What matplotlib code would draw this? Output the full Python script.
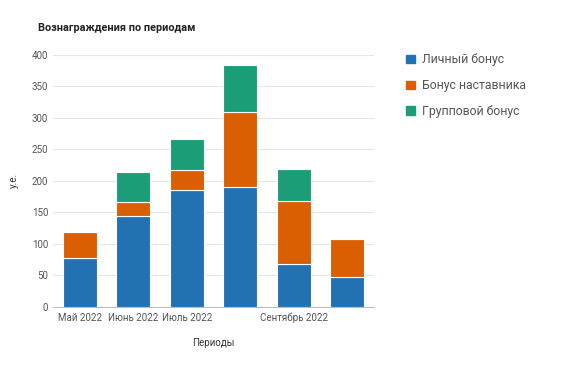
import matplotlib.pyplot as plt
from matplotlib.patches import Patch

plt.rcParams['font.family'] = ['Roboto', 'DejaVu Sans']

periods = ["Май 2022", "Июнь 2022", "Июль 2022", "Август 2022", "Сентябрь 2022", "Октябрь 2022"]
# only some labels were shown in the original (the rest were skipped)
shown_labels = ["Май 2022", "Июнь 2022", "Июль 2022", "", "Сентябрь 2022", ""]
personal = [77, 145, 185, 191, 68, 48]
mentor = [42, 22, 33, 118, 100, 60]
group = [0, 47, 49, 75, 51, 0]

series_names = ["Личный бонус", "Бонус наставника", "Групповой бонус"]
colors = ["#2271b3", "#d95f02", "#1b9e77"]

if __name__ == "__main__":
    fig = plt.figure(figsize=(5.71, 3.71), dpi=100)
    ax = fig.add_axes([0.093, 0.1725, 0.562, 0.68])

    x = list(range(len(periods)))
    bottom2 = [p + m for p, m in zip(personal, mentor)]
    ax.bar(x, personal, width=0.64, color=colors[0], edgecolor="white", linewidth=0.8, zorder=3)
    ax.bar(x, mentor, width=0.64, bottom=personal, color=colors[1], edgecolor="white", linewidth=0.8, zorder=3)
    ax.bar(x, group, width=0.64, bottom=bottom2, color=colors[2], edgecolor="white", linewidth=0.8, zorder=3)

    ax.set_xlim(-0.5, len(periods) - 0.5)
    ax.set_ylim(0, 400)
    ax.set_yticks(range(0, 401, 50))
    ax.set_xticks(x)
    ax.set_xticklabels(shown_labels)
    ax.yaxis.grid(True, color="#e6e6e6", linewidth=0.8, zorder=0)
    for s in ["top", "right", "left"]:
        ax.spines[s].set_visible(False)
    ax.spines["bottom"].set_color("#bdbdbd")
    ax.tick_params(axis="both", length=0, labelsize=7, colors="#555555")
    ax.tick_params(axis="x", pad=4)

    ax.set_xlabel("Периоды", fontsize=7, color="#333333", labelpad=11)
    ax.set_ylabel("у.е.", fontsize=7, color="#333333", labelpad=9)

    fig.text(0.066, 0.924, "Вознаграждения по периодам", fontsize=7.8,
             fontweight="bold", color="#222222", va="center")

    handles = [Patch(facecolor=c, edgecolor=c) for c in colors]
    leg = fig.legend(handles, series_names, loc="upper left", bbox_to_anchor=(0.692, 0.886),
                     frameon=False, fontsize=8.8, labelcolor="#555555",
                     handlelength=0.7, handleheight=0.7, handletextpad=0.6, labelspacing=1.05)

    plt.savefig("out.png", dpi=100)
